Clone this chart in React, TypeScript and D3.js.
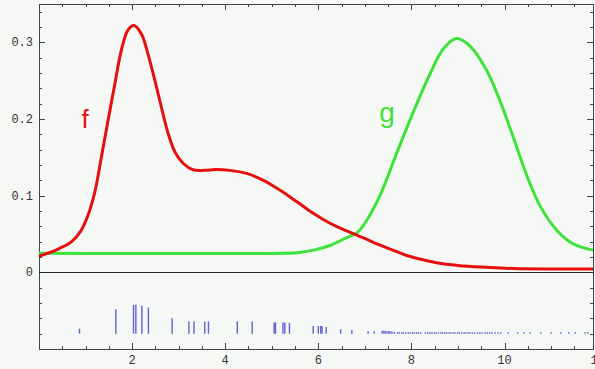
import { useRef, useEffect } from 'react';
import * as d3 from 'd3';

const WIDTH = 595;
const HEIGHT = 369;

// curve f (red)
const fX = [0, 0.4, 0.7, 0.9, 1.05, 1.2, 1.34, 1.48, 1.63, 1.77, 1.91, 2.04, 2.2, 2.34, 2.49, 2.63, 2.77, 2.92, 3.1, 3.3, 3.55, 3.8, 4.1, 4.46, 4.82, 5.18, 5.54, 5.89, 6.25, 6.61, 6.97, 7.3, 7.6, 7.9, 8.2, 8.54, 9.0, 9.5, 10.2, 11, 11.9];
const fY = [0.021, 0.03, 0.04, 0.054, 0.074, 0.105, 0.15, 0.197, 0.246, 0.29, 0.316, 0.322, 0.311, 0.285, 0.25, 0.215, 0.182, 0.157, 0.142, 0.134, 0.133, 0.134, 0.133, 0.129, 0.12, 0.107, 0.092, 0.077, 0.064, 0.054, 0.045, 0.036, 0.029, 0.022, 0.017, 0.0126, 0.009, 0.0068, 0.005, 0.0044, 0.0043];

// curve g (green)
const gX = [0, 5.3, 5.6, 5.9, 6.25, 6.6, 6.82, 7.0, 7.33, 7.68, 8.04, 8.4, 8.69, 8.97, 9.26, 9.62, 9.9, 10.19, 10.48, 10.76, 11.12, 11.48, 11.9];
const gY = [0.025, 0.025, 0.026, 0.029, 0.035, 0.045, 0.051, 0.064, 0.101, 0.155, 0.209, 0.259, 0.292, 0.305, 0.295, 0.263, 0.224, 0.176, 0.126, 0.087, 0.055, 0.037, 0.029];

// rug of sample points with their weights
const rugX = [0.87, 1.65, 2.03, 2.08, 2.21, 2.35, 2.86, 3.22, 3.33, 3.56, 3.64, 4.26, 4.58, 5.05, 5.08, 5.24, 5.28, 5.38, 5.89, 6.0, 6.05, 6.08, 6.17, 6.48, 6.72, 7.07, 7.2, 7.37, 7.41, 7.45, 7.5, 7.54, 7.58, 7.63,
  7.7, 7.74, 7.79, 7.83, 7.88, 7.93, 7.97, 8.02, 8.06, 8.11, 8.15, 8.2, 8.3, 8.35, 8.4, 8.44, 8.49, 8.53, 8.58, 8.63, 8.67, 8.72, 8.76, 8.81, 8.85, 8.9, 8.94, 8.99, 9.03, 9.08, 9.13, 9.17, 9.22, 9.26, 9.31, 9.36, 9.42, 9.47, 9.52, 9.58, 9.63, 9.68, 9.73, 9.8, 9.86, 9.92,
  10.08, 10.28, 10.42, 10.55, 10.78, 11.0, 11.21, 11.38, 11.52, 11.73, 11.79];
const rugW = [0.055, 0.27, 0.32, 0.32, 0.31, 0.29, 0.17, 0.135, 0.135, 0.135, 0.135, 0.135, 0.135, 0.125, 0.125, 0.125, 0.125, 0.12, 0.085, 0.085, 0.085, 0.085, 0.075, 0.05, 0.04, 0.028, 0.028, 0.033, 0.033, 0.03, 0.03, 0.03, 0.022, 0.022,
  0.017, 0.017, 0.017, 0.017, 0.017, 0.017, 0.017, 0.017, 0.017, 0.017, 0.017, 0.017, 0.017, 0.017, 0.017, 0.017, 0.017, 0.017, 0.017, 0.017, 0.017, 0.017, 0.017, 0.017, 0.017, 0.017, 0.017, 0.017, 0.017, 0.017, 0.017, 0.017, 0.017, 0.017, 0.017, 0.017, 0.017, 0.017, 0.017, 0.017, 0.017, 0.017, 0.017, 0.017, 0.017, 0.017,
  0.017, 0.017, 0.017, 0.017, 0.017, 0.017, 0.017, 0.017, 0.017, 0.017, 0.017];

const xLabels = [2, 4, 6, 8, 10, 12];
const yLabels = [0, 0.1, 0.2, 0.3];

const Chart = () => {
  const svgRef = useRef(null);

  useEffect(() => {
    const svg = d3.select(svgRef.current);
    svg.selectAll('*').remove();

    const x = d3.scaleLinear().domain([0, 11.9]).range([39, 593]);
    const y = d3.scaleLinear().domain([-0.1, 0.35]).range([349, 4]);
    const rugBase = -0.08;
    const rugH = d3.scaleLinear().domain([0, 1]).range([0, 90]);

    svg.append('rect')
      .attr('width', WIDTH).attr('height', HEIGHT)
      .attr('fill', '#f6f8f6');

    // frame ticks, pointing inward
    const xTicks = d3.range(0, 12.01, 0.5);
    const yTicks = d3.range(-10, 36, 2).map(d => d / 100);
    const g = svg.append('g').attr('stroke', '#444').attr('stroke-width', 1);
    xTicks.forEach(t => {
      const len = t % 2 === 0 ? 6 : 3;
      const px = Math.round(x(t)) + 0.5;
      g.append('line').attr('x1', px).attr('x2', px).attr('y1', y(-0.1)).attr('y2', y(-0.1) - len);
      g.append('line').attr('x1', px).attr('x2', px).attr('y1', y(0.35)).attr('y2', y(0.35) + len);
    });
    yTicks.forEach(t => {
      const len = Math.abs(Math.round(t * 100)) % 10 === 0 ? 6 : 3;
      const py = Math.round(y(t)) + 0.5;
      g.append('line').attr('x1', x(0)).attr('x2', x(0) + len).attr('y1', py).attr('y2', py);
      g.append('line').attr('x1', x(11.9)).attr('x2', x(11.9) - len).attr('y1', py).attr('y2', py);
    });

    // frame
    svg.append('rect')
      .attr('x', x(0) + 0.5).attr('y', y(0.35) + 0.5)
      .attr('width', x(11.9) - x(0)).attr('height', y(-0.1) - y(0.35))
      .attr('fill', 'none').attr('stroke', '#444').attr('stroke-width', 1);

    // zero axis
    svg.append('line')
      .attr('x1', x(0)).attr('x2', x(11.9))
      .attr('y1', Math.round(y(0)) + 0.5).attr('y2', Math.round(y(0)) + 0.5)
      .attr('stroke', '#222').attr('stroke-width', 1);

    // tick labels
    const labels = svg.append('g')
      .attr('font-family', '"Liberation Mono", "DejaVu Sans Mono", monospace')
      .attr('font-size', 12).attr('fill', '#333');
    xLabels.forEach(t => {
      labels.append('text').attr('x', x(t)).attr('y', 364)
        .attr('text-anchor', 'middle').text(String(t));
    });
    yLabels.forEach(t => {
      labels.append('text').attr('x', 33).attr('y', y(t) + 4)
        .attr('text-anchor', 'end').text(t === 0 ? '0' : d3.format('.1f')(t));
    });

    // rug
    svg.append('g')
      .selectAll('line')
      .data(rugX.map((d, i) => [d, rugW[i]]))
      .join('line')
      .attr('x1', d => x(d[0])).attr('x2', d => x(d[0]))
      .attr('y1', y(rugBase)).attr('y2', d => y(rugBase) - rugH(d[1]))
      .attr('stroke', '#4646c8').attr('stroke-opacity', 0.85).attr('stroke-width', 1.4);

    const line = d3.line()
      .x(d => x(d[0]))
      .y(d => y(d[1]))
      .curve(d3.curveCatmullRom.alpha(0.5));

    svg.append('path')
      .datum(gX.map((d, i) => [d, gY[i]]))
      .attr('fill', 'none').attr('stroke', '#3ee23a').attr('stroke-width', 3)
      .attr('stroke-linejoin', 'round')
      .attr('d', line);

    svg.append('path')
      .datum(fX.map((d, i) => [d, fY[i]]))
      .attr('fill', 'none').attr('stroke', '#e41010').attr('stroke-width', 3)
      .attr('stroke-linejoin', 'round')
      .attr('d', line);

    svg.append('text')
      .attr('x', 85).attr('y', 128).attr('text-anchor', 'middle')
      .attr('font-family', '"Liberation Sans", Arial, sans-serif').attr('font-size', 26)
      .attr('fill', '#e41010').text('f');
    svg.append('text')
      .attr('x', 387).attr('y', 122).attr('text-anchor', 'middle')
      .attr('font-family', '"Liberation Sans", Arial, sans-serif').attr('font-size', 28)
      .attr('fill', '#3ee23a').text('g');

  }, []);

  return (
    <svg ref={svgRef} width={WIDTH} height={HEIGHT}
      style={{ position: 'absolute', left: 0, top: 0, display: 'block' }}></svg>
  );
};

export default function App() {
  return <Chart />;
}
